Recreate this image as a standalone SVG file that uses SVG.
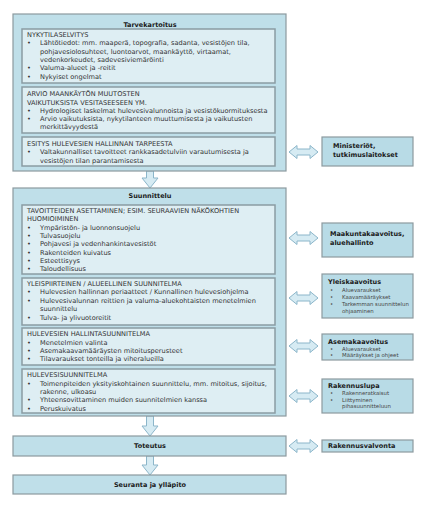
<svg xmlns="http://www.w3.org/2000/svg" width="429" height="509" viewBox="0 0 429 509">
<style>
text{font-family:"DejaVu Sans",Verdana,sans-serif;fill:#333;}
.t{font-size:6.6px;}
.h{font-size:6.5px;font-weight:bold;fill:#1a1a1a;}
.hc{font-size:6.5px;font-weight:bold;fill:#1a1a1a;text-anchor:middle;}
.s{font-size:5.4px;fill:#444;}
.outer{fill:#bfdfe9;stroke:#8c9a9f;stroke-width:1.2;}
.inner{fill:#deeef3;stroke:#8a9ca3;stroke-width:1.5;}
.side{fill:#b8dbe6;stroke:#8c9a9f;stroke-width:1.2;}
.arr{fill:#d6ebf3;stroke:#8cb6ca;stroke-width:1;}
</style>
<rect width="429" height="509" fill="#fff"/>
<g id="connectors">
<polygon class="arr" points="146.5,171 153.5,171 153.5,178 158,178 150,188 142,178 146.5,178"/>
<polygon class="arr" points="146.5,416 153.5,416 153.5,426 158,426 150,436 142,426 146.5,426"/>
<polygon class="arr" points="146.5,456 153.5,456 153.5,465 158,465 150,475 142,465 146.5,465"/>
<polygon class="arr" points="289,152 297,145.5 297,149 310,149 310,145.5 318,152 310,158.5 310,155 297,155 297,158.5"/>
<polygon class="arr" points="289,238 297,231.5 297,235 310,235 310,231.5 318,238 310,244.5 310,241 297,241 297,244.5"/>
<polygon class="arr" points="289,298 297,291.5 297,295 310,295 310,291.5 318,298 310,304.5 310,301 297,301 297,304.5"/>
<polygon class="arr" points="289,346 297,339.5 297,343 310,343 310,339.5 318,346 310,352.5 310,349 297,349 297,352.5"/>
<polygon class="arr" points="289,396 297,389.5 297,393 310,393 310,389.5 318,396 310,402.5 310,399 297,399 297,402.5"/>
<polygon class="arr" points="289,446 297,439.5 297,443 310,443 310,439.5 318,446 310,452.5 310,449 297,449 297,452.5"/>
</g>
<g id="tarvekartoitus">
<rect class="outer" x="13" y="14" width="273" height="157"/>
<text class="hc" x="150" y="26.5">Tarvekartoitus</text>
<g id="nykytilaselvitys">
<rect class="inner" x="22" y="29" width="253" height="54"/>
<text class="t" x="27" y="36.7">NYKYTILASELVITYS</text>
<text class="t" x="27" y="45.1">•</text><text class="t" x="40" y="45.1">Lähtötiedot: mm. maaperä, topografia, sadanta, vesistöjen tila,</text>
<text class="t" x="40" y="53.5">pohjavesiolosuhteet, luontoarvot, maankäyttö, virtaamat,</text>
<text class="t" x="40" y="61.9">vedenkorkeudet, sadevesiviemäröinti</text>
<text class="t" x="27" y="70.3">•</text><text class="t" x="40" y="70.3">Valuma-alueet ja -reitit</text>
<text class="t" x="27" y="78.7">•</text><text class="t" x="40" y="78.7">Nykyiset ongelmat</text>
</g>
<g id="arvio">
<rect class="inner" x="22" y="87" width="253" height="46"/>
<text class="t" x="27" y="96.4">ARVIO MAANKÄYTÖN MUUTOSTEN</text>
<text class="t" x="27" y="104.6">VAIKUTUKSISTA VESITASEESEEN YM.</text>
<text class="t" x="27" y="112.8">•</text><text class="t" x="40" y="112.8">Hydrologiset laskelmat hulevesivalunnoista ja vesistökuormituksesta</text>
<text class="t" x="27" y="121">•</text><text class="t" x="40" y="121">Arvio vaikutuksista, nykytilanteen muuttumisesta ja vaikutusten</text>
<text class="t" x="40" y="129.2">merkittävyydestä</text>
</g>
<g id="esitys">
<rect class="inner" x="22" y="137" width="253" height="29"/>
<text class="t" x="27" y="146.1">ESITYS HULEVESIEN HALLINNAN TARPEESTA</text>
<text class="t" x="27" y="154.4">•</text><text class="t" x="40" y="154.4">Valtakunnalliset tavoitteet rankkasadetulviin varautumisesta ja</text>
<text class="t" x="40" y="162.9">vesistöjen tilan parantamisesta</text>
</g>
</g>
<g id="suunnittelu">
<rect class="outer" x="13" y="188" width="273" height="228"/>
<text class="hc" x="150" y="198.3">Suunnittelu</text>
<g id="tavoitteet">
<rect class="inner" x="22" y="205" width="253" height="69"/>
<text class="t" x="27" y="213">TAVOITTEIDEN ASETTAMINEN; ESIM. SEURAAVIEN NÄKÖKOHTIEN</text>
<text class="t" x="27" y="221.3">HUOMIOIMINEN</text>
<text class="t" x="27" y="229.6">•</text><text class="t" x="40" y="229.6">Ympäristön- ja luonnonsuojelu</text>
<text class="t" x="27" y="237.9">•</text><text class="t" x="40" y="237.9">Tulvasuojelu</text>
<text class="t" x="27" y="246.2">•</text><text class="t" x="40" y="246.2">Pohjavesi ja vedenhankintavesistöt</text>
<text class="t" x="27" y="254.5">•</text><text class="t" x="40" y="254.5">Rakenteiden kuivatus</text>
<text class="t" x="27" y="262.8">•</text><text class="t" x="40" y="262.8">Esteettisyys</text>
<text class="t" x="27" y="271.1">•</text><text class="t" x="40" y="271.1">Taloudellisuus</text>
</g>
<g id="yleispiirteinen">
<rect class="inner" x="22" y="278" width="253" height="47"/>
<text class="t" x="27" y="285.6">YLEISPIIRTEINEN / ALUEELLINEN SUUNNITELMA</text>
<text class="t" x="27" y="294.1">•</text><text class="t" x="40" y="294.1">Hulevesien hallinnan periaatteet / Kunnallinen hulevesiohjelma</text>
<text class="t" x="27" y="302.6">•</text><text class="t" x="40" y="302.6">Hulevesivalunnan reittien ja valuma-aluekohtaisten menetelmien</text>
<text class="t" x="40" y="311.1">suunnittelu</text>
<text class="t" x="27" y="319.6">•</text><text class="t" x="40" y="319.6">Tulva- ja ylivuotoreitit</text>
</g>
<g id="hallintasuunnitelma">
<rect class="inner" x="22" y="328" width="253" height="37"/>
<text class="t" x="27" y="336.3">HULEVESIEN HALLINTASUUNNITELMA</text>
<text class="t" x="27" y="344.5">•</text><text class="t" x="40" y="344.5">Menetelmien valinta</text>
<text class="t" x="27" y="352.7">•</text><text class="t" x="40" y="352.7">Asemakaavamääräysten mitoitusperusteet</text>
<text class="t" x="27" y="360.9">•</text><text class="t" x="40" y="360.9">Tilavaraukset tonteilla ja viheralueilla</text>
</g>
<g id="hulevesisuunnitelma">
<rect class="inner" x="22" y="369" width="253" height="44"/>
<text class="t" x="27" y="377.3">HULEVESISUUNNITELMA</text>
<text class="t" x="27" y="385.6">•</text><text class="t" x="40" y="385.6">Toimenpiteiden yksityiskohtainen suunnittelu, mm. mitoitus, sijoitus,</text>
<text class="t" x="40" y="393.9">rakenne, ulkoasu</text>
<text class="t" x="27" y="402.2">•</text><text class="t" x="40" y="402.2">Yhteensovittaminen muiden suunnitelmien kanssa</text>
<text class="t" x="27" y="410.5">•</text><text class="t" x="40" y="410.5">Peruskuivatus</text>
</g>
</g>
<g id="toteutus">
<rect class="outer" x="13" y="436" width="273" height="20"/>
<text class="hc" x="150" y="448.3">Toteutus</text>
</g>
<g id="seuranta">
<rect class="outer" x="13" y="475" width="273" height="19"/>
<text class="hc" x="150" y="487.3">Seuranta ja ylläpito</text>
</g>
<g id="ministeriot">
<rect class="side" x="322" y="137" width="91" height="29"/>
<text class="h" x="333" y="148">Ministeriöt,</text>
<text class="h" x="333" y="156.6">tutkimuslaitokset</text>
</g>
<g id="maakuntakaavoitus">
<rect class="side" x="322" y="223" width="91" height="34"/>
<text class="h" x="330" y="235.6">Maakuntakaavoitus,</text>
<text class="h" x="330" y="245">aluehallinto</text>
</g>
<g id="yleiskaavoitus">
<rect class="side" x="322" y="274" width="91" height="44"/>
<text class="h" x="328" y="284.3">Yleiskaavoitus</text>
<text class="s" x="330" y="292">•</text><text class="s" x="342" y="292">Aluevaraukset</text>
<text class="s" x="330" y="299">•</text><text class="s" x="342" y="299">Kaavamääräykset</text>
<text class="s" x="330" y="306">•</text><text class="s" x="342" y="306">Tarkemman suunnittelun</text>
<text class="s" x="342" y="313">ohjaaminen</text>
</g>
<g id="asemakaavoitus">
<rect class="side" x="322" y="334" width="91" height="26"/>
<text class="h" x="328" y="343.8">Asemakaavoitus</text>
<text class="s" x="330" y="350.5">•</text><text class="s" x="342" y="350.5">Aluevaraukset</text>
<text class="s" x="330" y="357">•</text><text class="s" x="342" y="357">Määräykset ja ohjeet</text>
</g>
<g id="rakennuslupa">
<rect class="side" x="322" y="379" width="91" height="34"/>
<text class="h" x="328" y="388.3">Rakennuslupa</text>
<text class="s" x="330" y="395">•</text><text class="s" x="342" y="395">Rakenneratkaisut</text>
<text class="s" x="330" y="401.5">•</text><text class="s" x="342" y="401.5">Liittyminen</text>
<text class="s" x="342" y="408">pihasuunnitteluun</text>
</g>
<g id="rakennusvalvonta">
<rect class="side" x="322" y="440" width="91" height="12"/>
<text class="h" x="328" y="448.3">Rakennusvalvonta</text>
</g>
</svg>
